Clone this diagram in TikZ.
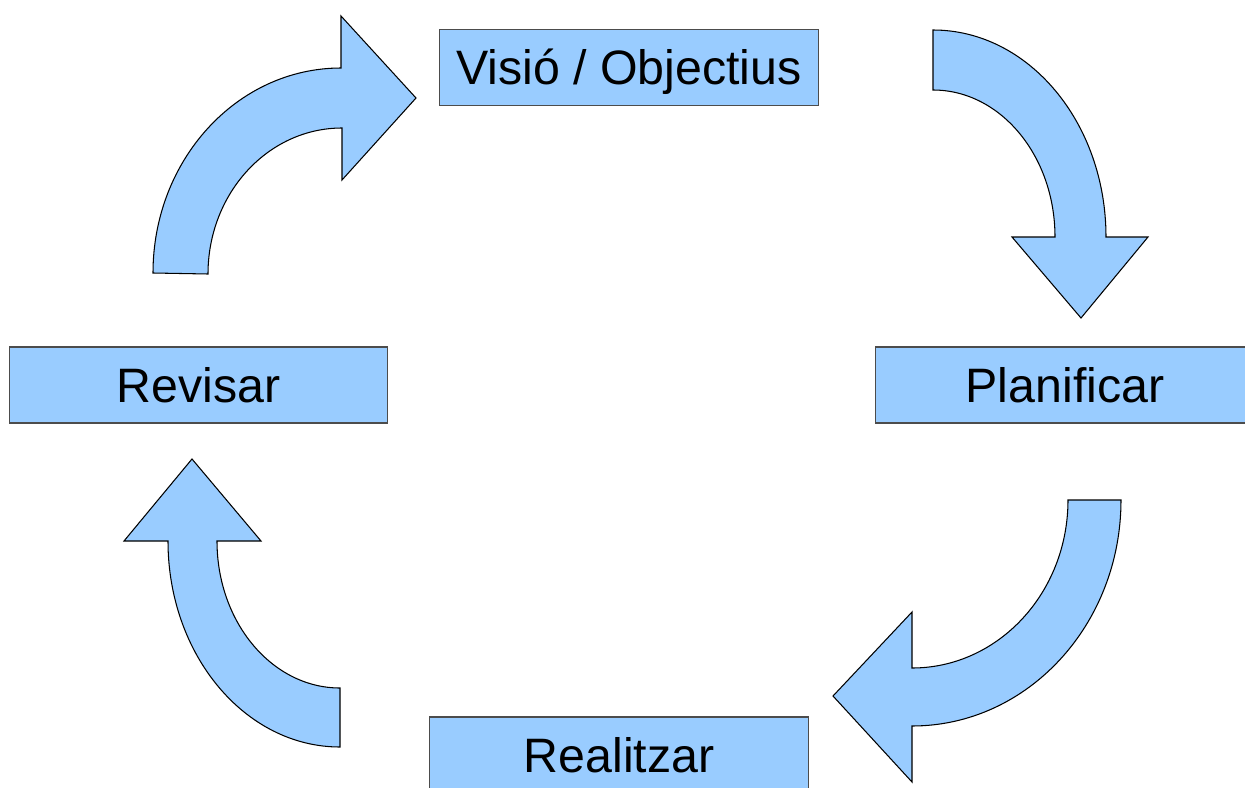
\documentclass[tikz,border=0pt]{standalone}
\usepackage{fontspec}
\setmainfont{Liberation Sans}
\definecolor{cyclefill}{HTML}{99CCFF}
\begin{document}
\begin{tikzpicture}[x=0.02cm, y=-0.02cm,
  stage/.style={draw=black!70, line width=0.6pt, fill=cyclefill, minimum width=7.58cm, minimum height=1.52cm, inner sep=0pt, text height=19.7pt, text depth=0pt, font=\fontsize{27.5}{33}\selectfont},
  bendarrow/.style={draw=black, line width=0.6pt, fill=cyclefill, line join=miter}]
\useasboundingbox (0,0) rectangle (1245,788);
\clip (0,0) rectangle (1245,788);
% stages of the cycle
\node[stage] (vision) at (629,67.5) {Visió / Objectius};
\node[stage] (plan) at (1065,385) {Planificar};
\node[stage] (review) at (198.5,385) {Revisar};
\node[stage] (doit) at (619,755) {Realitzar};
% curved block arrows
\draw[bendarrow] (153,273) arc[start angle=180, end angle=270, x radius=188, y radius=205] -- (341,16) -- (416,98) -- (342,180) -- (342,128) arc[start angle=270, end angle=180, x radius=134, y radius=146] -- cycle;
\draw[bendarrow] (933,30) arc[start angle=270, end angle=360, x radius=173, y radius=207] -- (1148,237) -- (1081,318) -- (1012,237) -- (1055,237) arc[start angle=360, end angle=270, x radius=122, y radius=147] -- cycle;
\draw[bendarrow] (1121,500) arc[start angle=0, end angle=90, x radius=209, y radius=226] -- (912,782) -- (833,696) -- (912,612) -- (912,668) arc[start angle=90, end angle=0, x radius=156, y radius=168] -- cycle;
\draw[bendarrow] (340,747) arc[start angle=90, end angle=180, x radius=172, y radius=206] -- (124,541) -- (192,459) -- (261,541) -- (217,541) arc[start angle=180, end angle=90, x radius=123, y radius=147] -- cycle;
\end{tikzpicture}
\end{document}
